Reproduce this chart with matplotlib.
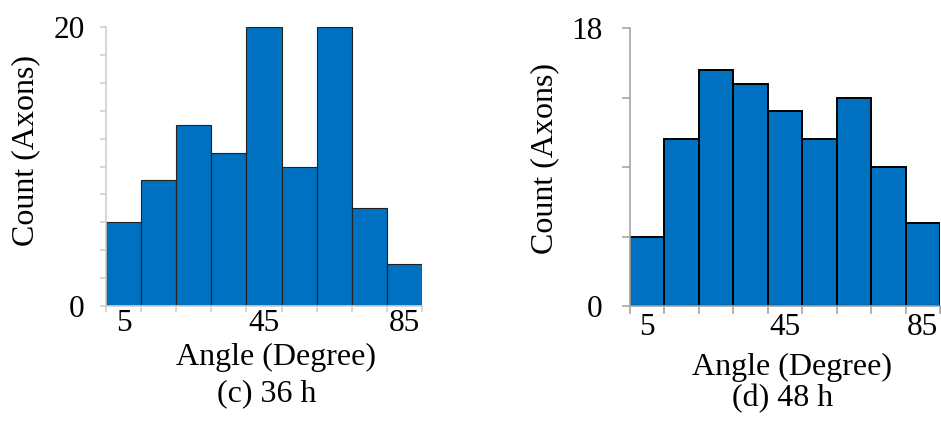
import matplotlib.pyplot as plt
from matplotlib.ticker import FixedLocator

# bin centres (degrees) and counts
angles = [5, 15, 25, 35, 45, 55, 65, 75, 85]
counts_36h = [6, 9, 13, 11, 20, 10, 20, 7, 3]
counts_48h = [4.5, 10.8, 15.3, 14.4, 12.6, 10.8, 13.5, 9.0, 5.4]
xlabels = ['5', '45', '85']
xlabel_pos = [5, 45, 85]

plt.rcParams['font.family'] = ['Liberation Serif', 'DejaVu Serif']
FS = 23      # axis titles
TFS = 22.5   # tick labels
W, H = 941, 421
fig = plt.figure(figsize=(W / 100, H / 100), dpi=100)

def px_axes(x0, x1, ytop, ybot):
    return fig.add_axes([x0 / W, (H - ybot) / H, (x1 - x0) / W, (ybot - ytop) / H])

def style(ax, counts, ymax, minor, spine_col, edge_col, lw, tlen, ypad, xpad):
    ax.bar(angles, counts, width=10, color='#0070C0', edgecolor=edge_col, linewidth=lw)
    ax.set_xlim(0, 90)
    ax.set_ylim(0, ymax)
    for s in ['top', 'right']:
        ax.spines[s].set_visible(False)
    for s in ['left', 'bottom']:
        ax.spines[s].set_color(spine_col)
        ax.spines[s].set_linewidth(1.2)
    ax.set_xticks(xlabel_pos)
    ax.set_xticklabels(xlabels, fontsize=TFS)
    ax.xaxis.set_minor_locator(FixedLocator(range(0, 91, 10)))
    ax.tick_params(axis='x', which='major', length=0, pad=xpad)
    ax.tick_params(axis='x', which='minor', length=tlen, color=spine_col, width=1.2)
    ax.set_yticks([0, ymax])
    ax.set_yticklabels(['0', str(ymax)], fontsize=TFS)
    ax.yaxis.set_minor_locator(FixedLocator(minor))
    ax.tick_params(axis='y', which='both', length=tlen, color=spine_col, width=1.2, pad=ypad)

ax1 = px_axes(106, 422, 27, 306)
style(ax1, counts_36h, 20, list(range(2, 20, 2)), '#d0d0d0', '#222222', 0.8, 4.3, 11, 2.5)

ax2 = px_axes(629.5, 940, 28, 306)
style(ax2, counts_48h, 18, [4.5, 9, 13.5], '#a6a6a6', 'black', 1.4, 5.8, 14, 5)

def ftext(x, y, s, **kw):
    fig.text(x / W, (H - y) / H, s, ha='center', va='center', fontsize=FS, **kw)

ftext(26, 151, 'Count (Axons)', rotation=90)
ftext(276, 357, 'Angle (Degree)')
ftext(267, 394, '(c) 36 h')
ftext(545, 158, 'Count (Axons)', rotation=90)
ftext(792, 367, 'Angle (Degree)')
ftext(783, 399, '(d) 48 h')

fig.savefig('out.png', dpi=100)
